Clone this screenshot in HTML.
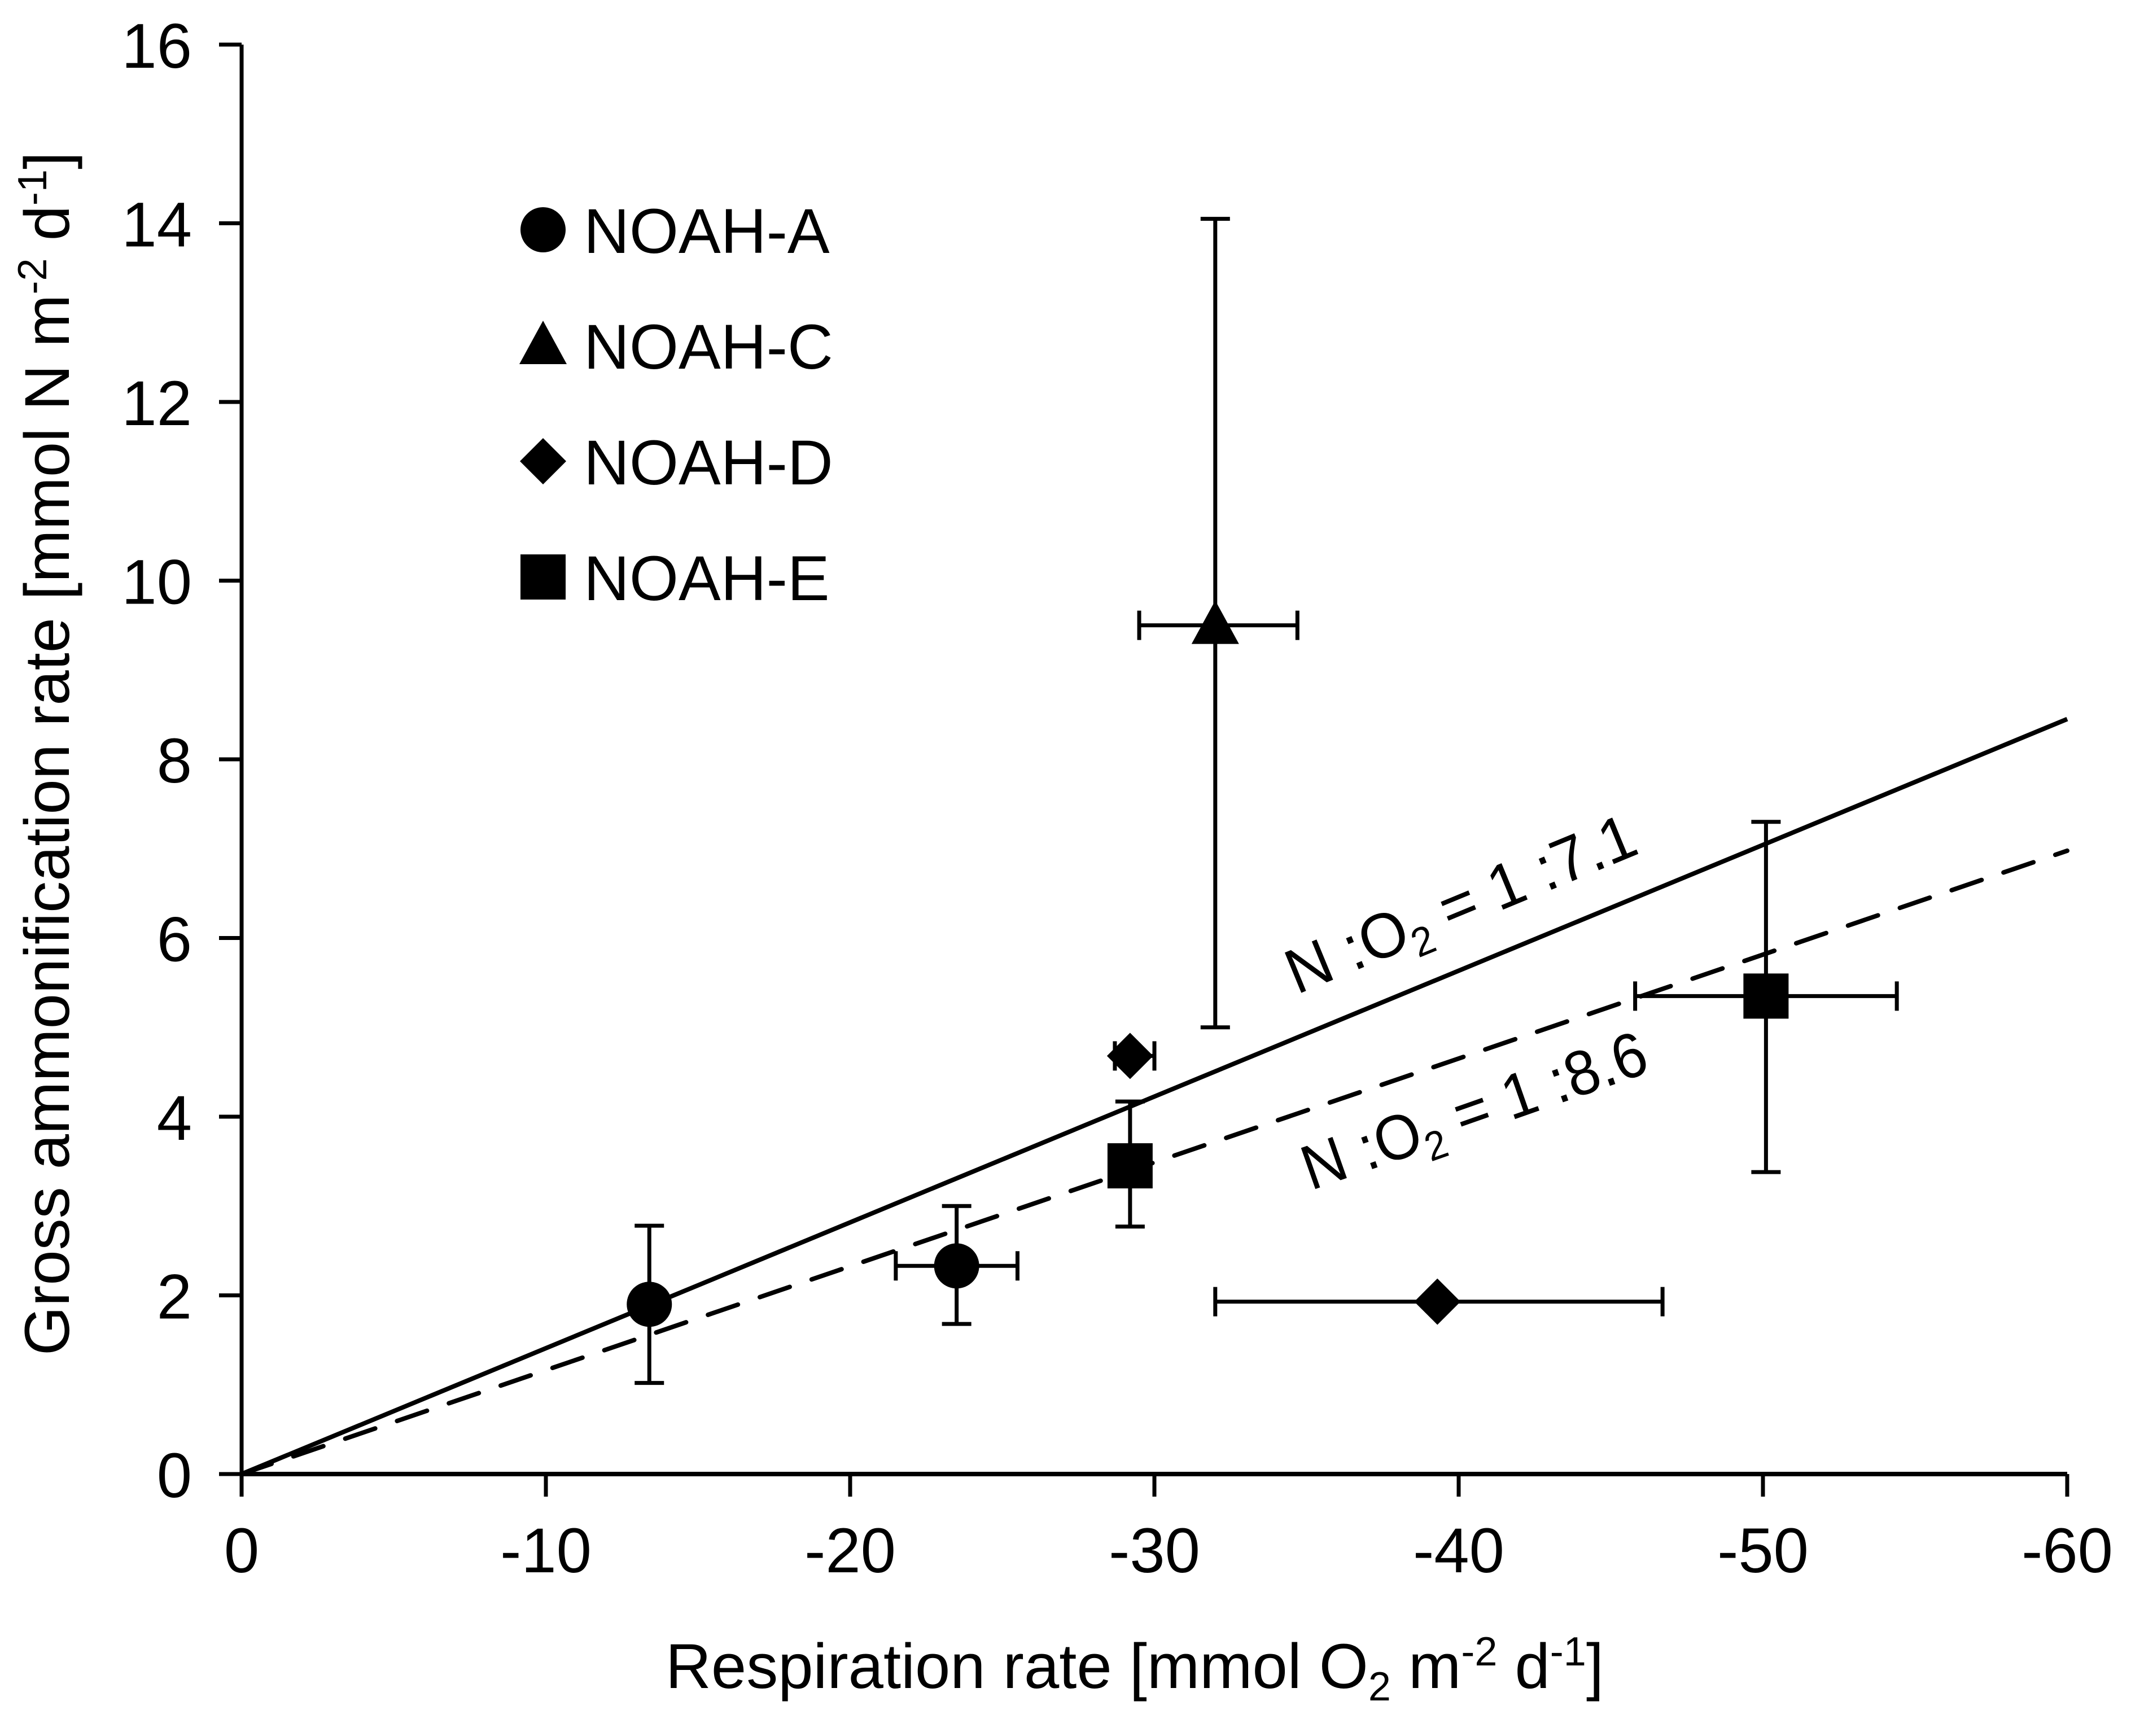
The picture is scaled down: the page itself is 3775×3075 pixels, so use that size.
<!DOCTYPE html>
<html><head><meta charset="utf-8">
<style>
html,body{margin:0;padding:0;background:#fff;}
svg{display:block;font-family:"Liberation Sans",sans-serif;}
</style></head>
<body>
<svg id="chart" width="3775" height="3075" viewBox="0 0 3775 3075" xmlns="http://www.w3.org/2000/svg">
<g id="axes"></g>
<g id="lines"></g>
<g id="points"></g>
<g id="legend"></g>
<text x="2010" y="2990" font-size="112" text-anchor="middle">Respiration rate [mmol O<tspan font-size="72" dy="22">2</tspan><tspan dy="-22"> m</tspan><tspan font-size="72" dy="-40">-2</tspan><tspan dy="40"> d</tspan><tspan font-size="72" dy="-40">-1</tspan><tspan dy="40">]</tspan></text>
<text transform="translate(122,1335) rotate(-90)" font-size="112" text-anchor="middle">Gross ammonification rate [mmol N m<tspan font-size="72" dy="-40">-2</tspan><tspan dy="40"> d</tspan><tspan font-size="72" dy="-40">-1</tspan><tspan dy="40">]</tspan></text>
</svg>
<script>
const xTicks=[0,-10,-20,-30,-40,-50,-60];
const yTicks=[0,2,4,6,8,10,12,14,16];
const seriesNames=["NOAH-A","NOAH-C","NOAH-D","NOAH-E"];
const seriesShapes=["circle","triangle","diamond","square"];
const ptSeries=[0,0,1,2,2,3,3];
const ptX=[-13.4,-23.5,-32.0,-29.2,-39.3,-29.2,-50.1];
const ptY=[1.9,2.33,9.5,4.68,1.93,3.45,5.35];
const xErrLo=[null,-21.5,-29.5,-28.7,-32.0,null,-45.8];
const xErrHi=[null,-25.5,-34.7,-30.0,-46.7,null,-54.4];
const yErrLo=[1.02,1.68,5.0,null,null,2.77,3.38];
const yErrHi=[2.78,3.0,14.05,null,null,4.17,7.3];
const ratios=[7.1,8.6];

const NS="http://www.w3.org/2000/svg";
const X0=428,X1=3662,Y0=2611,Y1=79;
const sx=v=>X0+(v/-60)*(X1-X0);
const sy=v=>Y0-(v/16)*(Y0-Y1);
function mk(tag,attrs,parent){const e=document.createElementNS(NS,tag);for(const k in attrs)e.setAttribute(k,attrs[k]);parent.appendChild(e);return e;}
const axes=document.getElementById('axes');
let e=mk('line',{x1:X0,y1:Y0,x2:X1,y2:Y0,stroke:'#000','stroke-width':8},axes);


e=mk('line',{x1:X0,y1:Y0+4,x2:X0,y2:Y1,stroke:'#000','stroke-width':7},axes);


xTicks.forEach(t=>{
 const l=mk('line',{x1:sx(t),y1:Y0,x2:sx(t),y2:Y0+40,stroke:'#000','stroke-width':7},axes);
 
 
 const tx=mk('text',{x:sx(t),y:2785,'font-size':112,'text-anchor':'middle'},axes);
 tx.textContent=t;
 
 
});
yTicks.forEach(t=>{
 const l=mk('line',{x1:X0-40,y1:sy(t),x2:X0,y2:sy(t),stroke:'#000','stroke-width':7},axes);
 
 
 const tx=mk('text',{x:340,y:sy(t)+41,'font-size':112,'text-anchor':'end'},axes);
 tx.textContent=t;
 
 
});
const lines=document.getElementById('lines');
ratios.forEach((r,i)=>{
 const a={x1:sx(0),y1:sy(0),x2:sx(-60),y2:sy(60/r),stroke:'#000','stroke-width':8};
 if(i===1){a['stroke-dasharray']='56 41';a['stroke-linecap']='round';}
 const l=mk('line',a,lines);
 
 
});
function lbl(r,x,y,ang,len,name){
 const t=mk('text',{transform:`translate(${x},${y}) rotate(${ang})`,'font-size':112,textLength:len,lengthAdjust:'spacingAndGlyphs'},lines);
 t.innerHTML=`N :O<tspan font-size="72" dy="22">2</tspan><tspan dy="-22"> = 1 :${r}</tspan>`;
 
 
}
lbl(ratios[0],2297,1762,-22.4,660,'solid-line-label');
lbl(ratios[1],2322,2109,-19.3,640,'dashed-line-label');

function marker(shape,cx,cy,parent){
 const s=40;
 if(shape==='circle')return mk('circle',{cx,cy,r:s},parent);
 if(shape==='square')return mk('rect',{x:cx-s,y:cy-s,width:2*s,height:2*s},parent);
 if(shape==='triangle')return mk('polygon',{points:`${cx},${cy-44} ${cx-42},${cy+33} ${cx+42},${cy+33}`},parent);
 return mk('polygon',{points:`${cx},${cy-41} ${cx+41},${cy} ${cx},${cy+41} ${cx-41},${cy}`},parent);
}
const pts=document.getElementById('points');
const cap=26;
ptX.forEach((xv,i)=>{
 const g=mk('g',{},pts);
 
 
 const cx=sx(xv),cy=sy(ptY[i]);
 if(yErrLo[i]!==null){
  mk('line',{x1:cx,y1:sy(yErrLo[i]),x2:cx,y2:sy(yErrHi[i]),stroke:'#000','stroke-width':7},g);
  mk('line',{x1:cx-cap,y1:sy(yErrLo[i]),x2:cx+cap,y2:sy(yErrLo[i]),stroke:'#000','stroke-width':7},g);
  mk('line',{x1:cx-cap,y1:sy(yErrHi[i]),x2:cx+cap,y2:sy(yErrHi[i]),stroke:'#000','stroke-width':7},g);
 }
 if(xErrLo[i]!==null){
  mk('line',{x1:sx(xErrLo[i]),y1:cy,x2:sx(xErrHi[i]),y2:cy,stroke:'#000','stroke-width':7},g);
  mk('line',{x1:sx(xErrLo[i]),y1:cy-cap,x2:sx(xErrLo[i]),y2:cy+cap,stroke:'#000','stroke-width':7},g);
  mk('line',{x1:sx(xErrHi[i]),y1:cy-cap,x2:sx(xErrHi[i]),y2:cy+cap,stroke:'#000','stroke-width':7},g);
 }
 marker(seriesShapes[ptSeries[i]],cx,cy,g);
});
const leg=document.getElementById('legend');
seriesNames.forEach((n,i)=>{
 const g=mk('g',{},leg);
 
 
 const y=407+i*205;
 marker(seriesShapes[i],962,y,g);
 const t=mk('text',{x:1034,y:y+41,'font-size':112},g);
 t.textContent=n;
});
</script>
</body></html>
